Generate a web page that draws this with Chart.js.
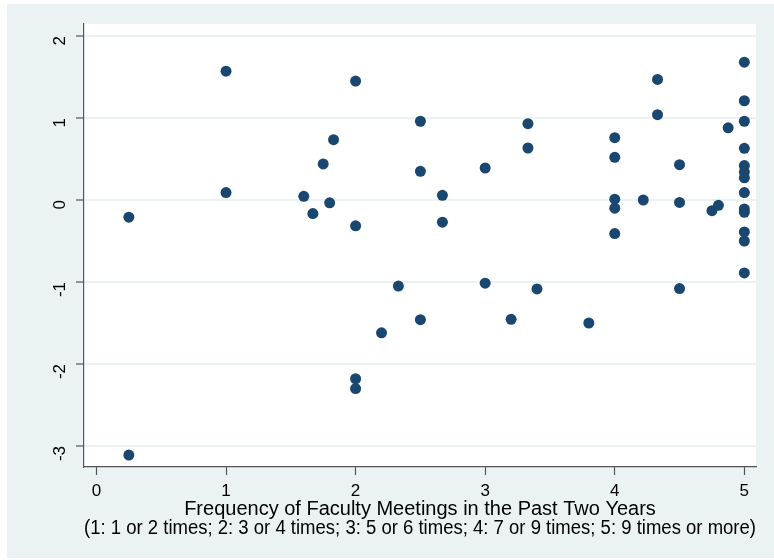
<!DOCTYPE html>
<html>
<head>
<meta charset="utf-8">
<script src="https://cdn.jsdelivr.net/npm/chart.js@4"></script>
<style>
  html, body { margin: 0; padding: 0; background: #ffffff; }
  #wrap { width: 774px; height: 560px; }
</style>
</head>
<body>
<div id="wrap"><canvas id="chart" width="774" height="560"></canvas></div>
<script>
// meeting frequency (x) and residual score (y)
var freqValues = [0.25, 0.25, 1, 1, 1.6, 1.67, 1.75, 1.8, 1.83, 2, 2, 2, 2, 2.2, 2.33, 2.5, 2.5, 2.5,
  2.67, 2.67, 3, 3, 3.2, 3.33, 3.33, 3.4, 3.8, 4, 4, 4, 4, 4, 4.22, 4.33, 4.33, 4.5, 4.5, 4.5,
  4.75, 4.8, 4.875, 5, 5, 5, 5, 5, 5, 5, 5, 5, 5, 5, 5, 5];
var scoreValues = [-0.21, -3.11, 1.57, 0.09, 0.045, -0.165, 0.44, -0.035, 0.735, 1.45, -0.315, -2.18, -2.3, -1.62, -1.05, 0.96, 0.35, -1.46,
  0.057, -0.27, 0.39, -1.015, -1.455, 0.93, 0.634, -1.085, -1.5, 0.76, 0.52, 0.01, -0.10, -0.41, 0.0, 1.47, 1.04, 0.43, -0.03, -1.08,
  -0.13, -0.065, 0.88, 1.68, 1.21, 0.96, 0.63, 0.42, 0.34, 0.27, 0.09, -0.11, -0.15, -0.39, -0.50, -0.89];
var xTicks = [0, 1, 2, 3, 4, 5];
var yTicks = [-3, -2, -1, 0, 1, 2];
var xTitle = ['Frequency of Faculty Meetings in the Past Two Years',
  '(1: 1 or 2 times; 2: 3 or 4 times; 3: 5 or 6 times; 4: 7 or 9 times; 5: 9 times or more)'];

var points = [];
freqValues.forEach(function (x, i) {
  points.push({ x: x, y: scoreValues[i] });
});

// Stata style background: light outer region, white plot region
var backgroundPlugin = {
  id: 'stataBackground',
  beforeDraw: function (chart) {
    var ctx = chart.ctx;
    var a = chart.chartArea;
    ctx.save();
    ctx.fillStyle = '#EAF2F3';
    ctx.fillRect(7, 4, 767, 554);
    ctx.fillStyle = '#ffffff';
    ctx.fillRect(a.left, a.top, a.right - a.left, a.bottom - a.top);
    ctx.restore();
  }
};

var tickFont = { family: "'Liberation Sans', Arial, sans-serif", size: 17 };
var titleFont = { family: "'Liberation Sans', Arial, sans-serif", size: 20, lineHeight: 0.95 };

new Chart(document.getElementById('chart'), {
  type: 'scatter',
  data: {
    datasets: [{
      data: points,
      backgroundColor: '#1A476F',
      borderColor: '#1A476F',
      borderWidth: 0,
      pointRadius: 5.5,
      pointHoverRadius: 5.5
    }]
  },
  plugins: [backgroundPlugin],
  options: {
    responsive: false,
    animation: false,
    layout: { padding: { left: 0, top: 24, right: 18, bottom: 0 } },
    plugins: { legend: { display: false }, tooltip: { enabled: false } },
    scales: {
      x: {
        type: 'linear',
        min: -0.096,
        max: 5.09,
        afterBuildTicks: function (axis) {
          axis.ticks = xTicks.map(function (v) { return { value: v }; });
        },
        afterFit: function (axis) { axis.height = 93; },
        grid: { drawOnChartArea: false, drawTicks: true, tickLength: 8, tickColor: '#555555', tickWidth: 1.2 },
        border: { display: true, color: '#555555', width: 1.2 },
        ticks: { color: '#000000', font: tickFont, padding: 6, maxRotation: 0 },
        title: { display: true, text: xTitle, color: '#000000', font: titleFont, padding: { top: 0, bottom: 22.5 } }
      },
      y: {
        type: 'linear',
        min: -3.256,
        max: 2.146,
        afterBuildTicks: function (axis) {
          axis.ticks = yTicks.map(function (v) { return { value: v }; });
        },
        afterFit: function (axis) {
          axis.width = 84;
          axis.paddingTop = 0;
          axis.paddingBottom = 0;
        },
        grid: { color: '#EAF2F3', lineWidth: 2, drawTicks: true, tickLength: 8, tickColor: '#555555', tickWidth: 1.2 },
        border: { display: true, color: '#555555', width: 1.2 },
        ticks: { color: '#000000', font: tickFont, padding: 16, minRotation: 90, maxRotation: 90 }
      }
    }
  }
});
</script>
</body>
</html>
